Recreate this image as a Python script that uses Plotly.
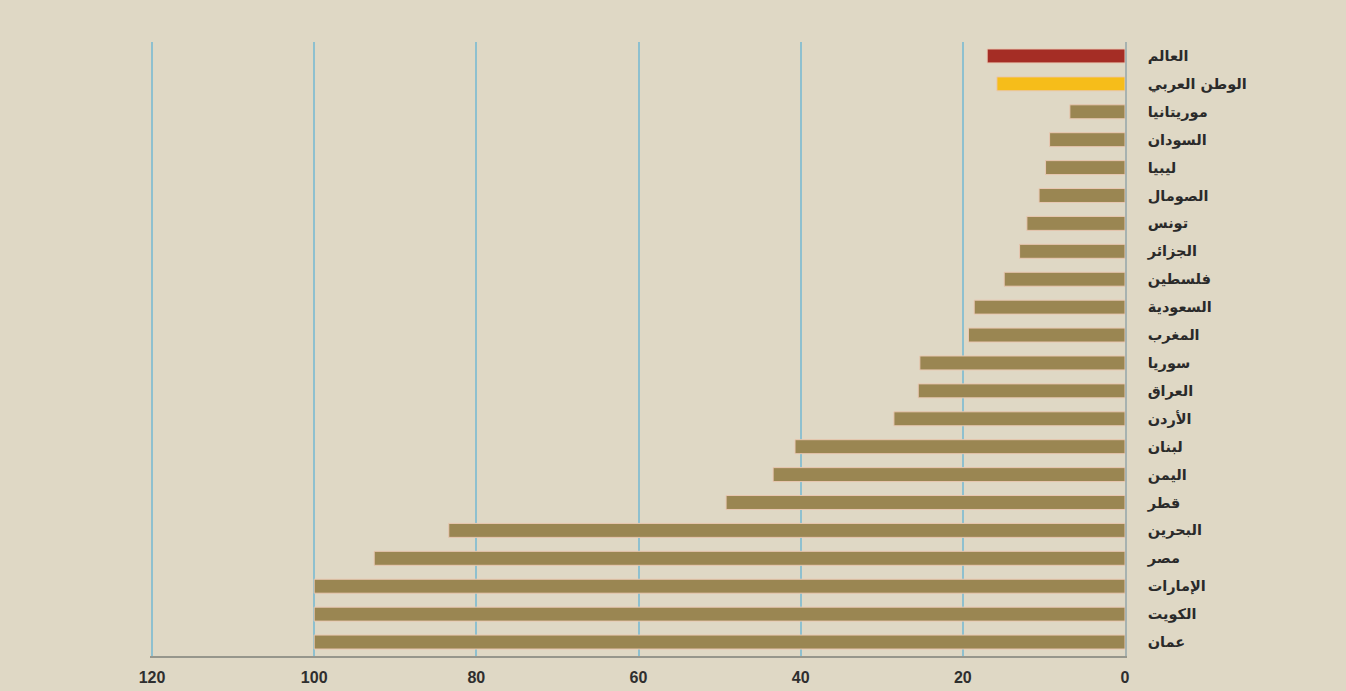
import plotly.graph_objects as go

# Categories, top to bottom
countries = [
    "العالم", "الوطن العربي", "موريتانيا", "السودان", "ليبيا", "الصومال",
    "تونس", "الجزائر", "فلسطين", "السعودية", "المغرب", "سوريا", "العراق",
    "الأردن", "لبنان", "اليمن", "قطر", "البحرين", "مصر", "الإمارات",
    "الكويت", "عمان",
]
values = [
    17.0, 15.8, 6.8, 9.3, 9.8, 10.6,
    12.1, 13.0, 14.9, 18.6, 19.3, 25.3, 25.5,
    28.5, 40.7, 43.4, 49.2, 83.4, 92.6, 100,
    100, 100,
]
x_ticks = [0, 20, 40, 60, 80, 100, 120]

OLIVE = "#9A8652"
bar_colors = ["#A52D25", "#F6BD1A"] + [OLIVE] * (len(countries) - 2)

BG = "#DFD8C5"

fig = go.Figure(
    go.Bar(
        x=values,
        y=countries,
        orientation="h",
        marker=dict(color=bar_colors, line=dict(color="#E9C8B2", width=1)),
        hoverinfo="x+y",
    )
)

fig.update_layout(
    width=1346,
    height=691,
    margin=dict(l=150, r=221, t=42, b=35),
    paper_bgcolor=BG,
    plot_bgcolor=BG,
    bargap=0.5,
    showlegend=False,
    xaxis=dict(
        range=[120.25, 0],
        automargin=False,
        tickvals=x_ticks,
        ticktext=[str(v) for v in x_ticks],
        showgrid=True,
        gridcolor="#8EC0CF",
        gridwidth=1.5,
        zeroline=False,
        showline=True,
        linecolor="#96968C",
        linewidth=2,
        ticks="",
        ticklabelstandoff=6,
        tickfont=dict(family="Liberation Sans, Arial, sans-serif", size=16,
                      color="#2E2E2E", weight="bold"),
    ),
    yaxis=dict(
        categoryorder="array",
        categoryarray=countries,
        autorange="reversed",
        automargin=False,
        side="right",
        showgrid=False,
        zeroline=False,
        showline=True,
        linecolor="#A7B2B0",
        linewidth=1.5,
        ticks="",
        ticklabelstandoff=18,
        tickfont=dict(family="DejaVu Sans, sans-serif", size=14.5, color="#2A2A2A", weight="bold"),
    ),
)

fig.write_html("out.html")
